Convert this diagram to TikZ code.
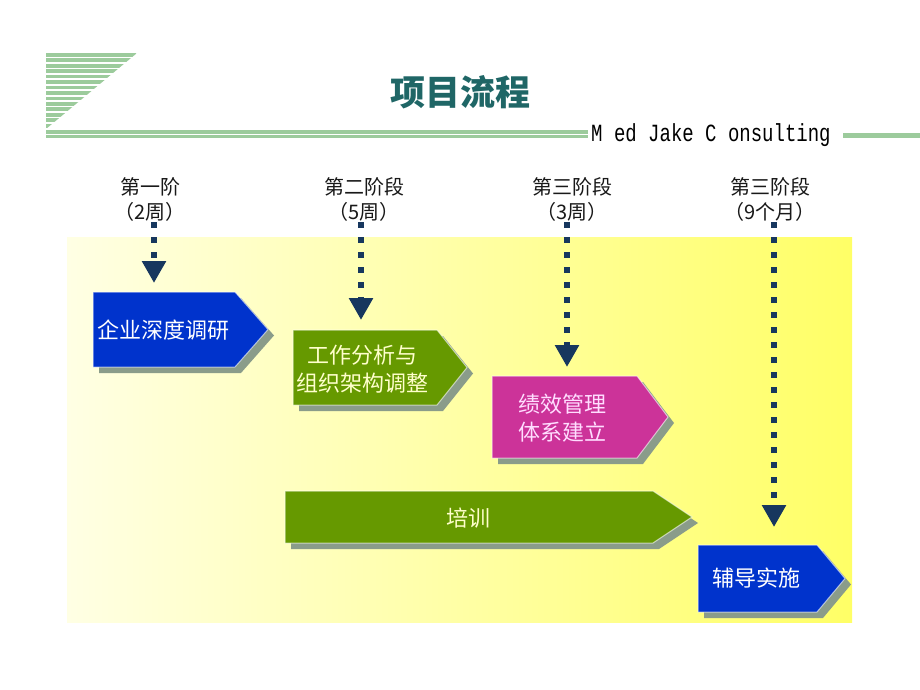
\documentclass[tikz,border=0pt]{standalone}
\usepackage{fontspec}
\usepackage{graphicx}
\newfontfamily\cjk{Noto Sans CJK SC}
\newfontfamily\monof{Liberation Mono}
\usetikzlibrary{arrows.meta}
\definecolor{stripeg}{HTML}{9CCB9C}
\definecolor{titlec}{HTML}{1F6666}
\definecolor{navy}{HTML}{17375E}
\definecolor{boxblue}{HTML}{0033CC}
\definecolor{boxgreen}{HTML}{669900}
\definecolor{boxpink}{HTML}{CC3399}
\definecolor{shadowc}{HTML}{8A9C8A}
\definecolor{ylight}{HTML}{FFFFE4}
\definecolor{ydark}{HTML}{FFFF66}
\definecolor{cream}{HTML}{FFFFCC}
\definecolor{pinklt}{HTML}{FFDDFF}
\newcommand\pbox[6]{%
  \fill[shadowc,shift={(6,6)}] (#1,#2) -- (#3,#2) -- (#4,{(#2+#5)/2}) -- (#3,#5) -- (#1,#5) -- cycle;
  \filldraw[fill=#6,draw=white,draw opacity=0.6,line width=1pt] (#1,#2) -- (#3,#2) -- (#4,{(#2+#5)/2}) -- (#3,#5) -- (#1,#5) -- cycle;
}
\begin{document}
\begin{tikzpicture}[x=1pt,y=-1pt,
  lab/.style={align=center,inner sep=0pt,text=black!90,font=\cjk\fontsize{20}{25}\selectfont},
  btext/.style={align=center,inner sep=0pt,font=\cjk\fontsize{22}{28}\selectfont},
  dotarrow/.style={draw=navy,line width=6.5pt,dash pattern=on 6pt off 9pt,-{Triangle[length=22pt,width=23pt]}}]
\useasboundingbox (0,0) rectangle (920,690);
\fill[white] (0,0) rectangle (920,690);
% header stripes
\begin{scope}
\clip (46,53) -- (137,53) -- (46,129) -- cycle;
\foreach \i in {0,...,13} \fill[stripeg] (46,{53+\i*5.45}) rectangle (137,{53+\i*5.45+3.7});
\end{scope}
\fill[stripeg] (46,130) rectangle (588,133.5);
\fill[stripeg] (46,135) rectangle (588,137.5);
\fill[stripeg] (843,132.5) rectangle (920,138);
\node[anchor=base west,inner sep=0pt,font=\monof\fontsize{19}{19}\selectfont] (mj) at (591,141) {\scalebox{1}[1.3]{M ed Jake C onsulting}};
\node[inner sep=0pt,text=titlec,font=\cjk\bfseries\fontsize{35}{35}\selectfont] (title) at (460,92) {项目流程};
% background
\shade[left color=ylight,right color=ydark] (67,237) rectangle (852,622);
% boxes
\pbox{93}{292}{235}{268}{367}{boxblue}
\pbox{293}{330}{437}{467}{405}{boxgreen}
\pbox{492}{376}{637}{668}{458}{boxpink}
\pbox{285}{491}{653}{692}{543}{boxgreen}
\pbox{698}{545}{817}{845}{612}{boxblue}
\node[btext,text=white] (b1) at (163,330) {企业深度调研};
\node[btext,text=cream] (b2) at (362,369) {工作分析与\\组织架构调整};
\node[btext,text=pinklt] (b3) at (562,418) {绩效管理\\体系建立};
\node[btext,text=cream] (b4) at (468,518) {培训};
\node[btext,text=white] (b5) at (756,578) {辅导实施};
% labels
\node[lab] (l1) at (150,199.5) {第一阶\\（2周）};
\node[lab] (l2) at (364,199.5) {第二阶段\\（5周）};
\node[lab] (l3) at (572,199.5) {第三阶段\\（3周）};
\node[lab] (l4) at (770,199.5) {第三阶段\\（9个月）};
% arrows
\coordinate (s1) at (154,222); \coordinate (t1) at (154,283);
\coordinate (s2) at (361,222); \coordinate (t2) at (361,320);
\coordinate (s3) at (567,222); \coordinate (t3) at (567,367);
\coordinate (s4) at (774,222); \coordinate (t4) at (774,527);
\draw[dotarrow] (s1) -- (t1);
\draw[dotarrow] (s2) -- (t2);
\draw[dotarrow] (s3) -- (t3);
\draw[dotarrow] (s4) -- (t4);
\end{tikzpicture}
\end{document}
